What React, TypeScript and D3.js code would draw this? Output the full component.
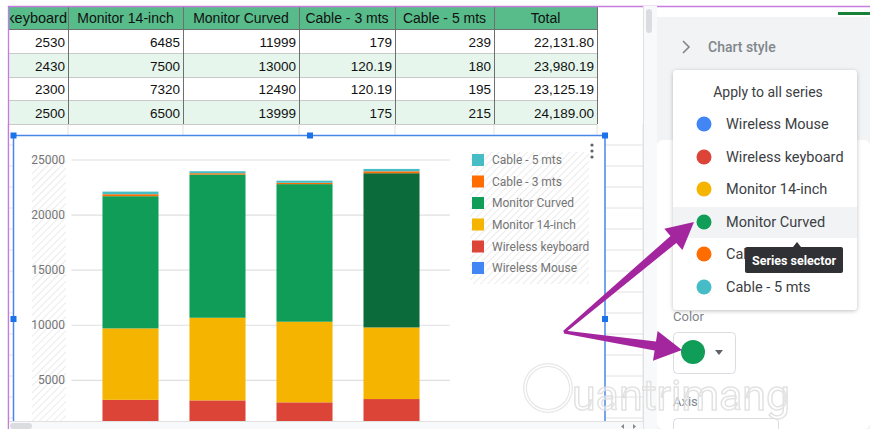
import React from 'react';
import * as d3 from 'd3';

// data read from the sheet / chart
const categories = ['1', '2', '3', '4'];
const seriesNames = ['Wireless Mouse', 'Wireless keyboard', 'Monitor 14-inch', 'Monitor Curved', 'Cable - 3 mts', 'Cable - 5 mts'];
const wirelessMouse = [699.8, 750, 700, 800];
const wirelessKeyboard = [2530, 2430, 2300, 2500];
const monitor14 = [6485, 7500, 7320, 6500];
const monitorCurved = [11999, 13000, 12490, 13999];
const cable3 = [179, 120.19, 120.19, 175];
const cable5 = [239, 180, 195, 215];
const totals = ['22,131.80', '23,980.19', '23,125.19', '24,189.00'];
const yTicks = [5000, 10000, 15000, 20000, 25000];
const tableHeaders = ['Wireless keyboard', 'Monitor 14-inch', 'Monitor Curved', 'Cable - 3 mts', 'Cable - 5 mts', 'Total'];
const seriesColors = ['#4285f4', '#db4437', '#f4b400', '#0f9d58', '#ff6d00', '#46bdc6'];

const W = 870;
const H = 429;
const colEdges = [8, 68, 183, 299, 395, 494, 597];
const rowEdges = [6, 29, 53, 77, 100, 124];

function arrowPath(tx, ty, px, py, headLen, headHalf, w0, w1) {
  const dx = px - tx, dy = py - ty;
  const len = Math.sqrt(dx * dx + dy * dy);
  const ux = dx / len, uy = dy / len;
  const nx = -uy, ny = ux;
  const bx = px - ux * headLen, by = py - uy * headLen;
  const pts = [
    [tx + nx * w0, ty + ny * w0],
    [bx + nx * w1, by + ny * w1],
    [bx + nx * headHalf, by + ny * headHalf],
    [px, py],
    [bx - nx * headHalf, by - ny * headHalf],
    [bx - nx * w1, by - ny * w1],
    [tx - nx * w0, ty - ny * w0],
  ];
  return 'M' + pts.map(p => p[0].toFixed(1) + ',' + p[1].toFixed(1)).join('L') + 'Z';
}

function App() {
  const rows = categories.map((c, i) => ({
    cat: c,
    'Wireless Mouse': wirelessMouse[i],
    'Wireless keyboard': wirelessKeyboard[i],
    'Monitor 14-inch': monitor14[i],
    'Monitor Curved': monitorCurved[i],
    'Cable - 3 mts': cable3[i],
    'Cable - 5 mts': cable5[i],
  }));
  const stacked = d3.stack().keys(seriesNames)(rows);

  const x = d3.scaleBand().domain(categories).range([71.5, 450.5]).padding(0.356);
  const y = d3.scaleLinear().domain([0, 25000]).range([435.4, 160]);
  const color = d3.scaleOrdinal().domain(seriesNames).range(seriesColors);

  const font = 'Roboto, Arial, sans-serif';
  const sheetFont = '"Liberation Sans", Arial, sans-serif';

  const menuY = [124, 157, 189, 222, 254, 287];
  const legendY = [160, 181.5, 203, 224.5, 246.5, 268];

  return (
    <div style={{ position: 'absolute', left: 0, top: 0 }}>
      <svg width={W} height={H} style={{ display: 'block', background: '#fff' }}>
        <defs>
          <pattern id="hatch" width="5" height="5" patternUnits="userSpaceOnUse" patternTransform="rotate(45)">
            <rect width="5" height="5" fill="#fff" />
            <line x1="0" y1="0" x2="0" y2="5" stroke="#e6e6e6" strokeWidth="1.6" />
          </pattern>
          <clipPath id="firstCol">
            <rect x={10} y={0} width={58} height={40} />
          </clipPath>
          <filter id="shadow" x="-10%" y="-10%" width="120%" height="130%">
            <feDropShadow dx="0" dy="1" stdDeviation="2" floodColor="#000" floodOpacity="0.25" />
          </filter>
        </defs>

        {/* spreadsheet grid below the table */}
        {d3.range(145, 429, 21).map(gy => (
          <line key={'gr' + gy} x1={8} x2={643} y1={gy} y2={gy} stroke="#e2e2e2" />
        ))}
        {colEdges.concat([643]).map(cx => (
          <line key={'gc' + cx} x1={cx} x2={cx} y1={124} y2={429} stroke="#e2e2e2" />
        ))}

        {/* table */}
        <rect x={8} y={rowEdges[0]} width={589} height={23} fill="#57bb8a" />
        {totals.map((t, i) => (
          <rect key={'rb' + i} x={8} y={rowEdges[i + 1]} width={589} height={rowEdges[i + 2] - rowEdges[i + 1]}
            fill={i % 2 === 1 ? '#e7f6ec' : '#fff'} />
        ))}
        {rowEdges.map(ry => (
          <line key={'tr' + ry} x1={8} x2={597} y1={ry + 0.5} y2={ry + 0.5} stroke={ry === 6 ? '#c77be0' : '#c9c9c9'} />
        ))}
        {colEdges.map(cx => (
          <line key={'tc' + cx} x1={cx + 0.5} x2={cx + 0.5} y1={6} y2={124} stroke="#6f6f6f" />
        ))}
        <line x1={8} x2={597} y1={29.5} y2={29.5} stroke="#6f6f6f" />
        <g clipPath="url(#firstCol)">
          <text x={67} y={23} textAnchor="end" fontFamily={sheetFont} fontSize={14.5} fill="#111">{tableHeaders[0]}</text>
        </g>
        {tableHeaders.slice(1).map((h, i) => (
          <text key={'th' + i} x={(colEdges[i + 1] + colEdges[i + 2]) / 2} y={23} textAnchor="middle"
            fontFamily={sheetFont} fontSize={14} fill="#111">{h}</text>
        ))}
        {categories.map((c, i) => {
          const vals = [wirelessKeyboard[i], monitor14[i], monitorCurved[i], cable3[i], cable5[i]].map(String).concat([totals[i]]);
          const by = rowEdges[i + 2] - 6;
          return vals.map((v, j) => (
            <text key={'td' + i + '-' + j} x={colEdges[j + 1] - 3} y={by} textAnchor="end"
              fontFamily={sheetFont} fontSize={13.5} fill="#111">{v}</text>
          ));
        })}

        {/* chart */}
        <rect x={13} y={135} width={592} height={286} fill="#fff" />
        <rect x={32} y={155} width={34} height={266} fill="url(#hatch)" />
        {yTicks.map(t => (
          <g key={'yt' + t}>
            <line x1={71.5} x2={450} y1={y(t)} y2={y(t)} stroke="#e0e0e0" strokeWidth={1.2} />
            <text x={65} y={y(t) + 4} textAnchor="end" fontFamily={font} fontSize={12} fill="#757575">{t}</text>
          </g>
        ))}
        <g>
          {stacked.map(s => s.map((d, i) => (
            <rect key={s.key + i}
              x={x(categories[i])}
              y={Math.min(y(d[1]), 421)}
              width={x.bandwidth()}
              height={Math.max(0, Math.min(y(d[0]), 421) - Math.min(y(d[1]), 421))}
              fill={s.key === 'Monitor Curved' && i === 3 ? '#0b6b3b' : color(s.key)} />
          )))}
        </g>

        {/* legend */}
        <rect x={470} y={152} width={119} height={132} fill="url(#hatch)" />
        {seriesNames.slice().reverse().map((n, i) => (
          <g key={'lg' + n}>
            <rect x={472} y={legendY[i] - 6} width={12} height={12} fill={color(n)} />
            <text x={492} y={legendY[i] + 4} fontFamily={font} fontSize={12} fill="#757575">{n}</text>
          </g>
        ))}
        {[145, 151, 157].map(dy => <circle key={'dot' + dy} cx={592} cy={dy} r={1.6} fill="#5f6368" />)}

        {/* selection frame */}
        <rect x={13.5} y={135.5} width={591.5} height={300} fill="none" stroke="#4a86e8" strokeWidth={1.5} />
        {[[13.5, 135.5], [310, 135.5], [605, 135.5], [13.5, 319], [605, 319]].map((p, i) => (
          <rect key={'hd' + i} x={p[0] - 3} y={p[1] - 3} width={6} height={6} fill="#1a73e8" />
        ))}

        {/* sheet purple borders */}
        <line x1={8} x2={870} y1={6.5} y2={6.5} stroke="#c77be0" strokeWidth={1.3} />
        <line x1={8.5} x2={8.5} y1={6} y2={429} stroke="#c77be0" strokeWidth={1.3} />

        {/* bottom scrollbar */}
        <rect x={9} y={421} width={634} height={8} fill="#f8f9fa" />
        <line x1={9} x2={643} y1={421.5} y2={421.5} stroke="#e0e0e0" />
        <rect x={10} y={423} width={22} height={6} rx={3} fill="#dadce0" />
        <path d="M624,424 L621,426.5 L624,429 Z" fill="#888" />
        <path d="M633,424 L636,426.5 L633,429 Z" fill="#888" />

        {/* side panel */}
        <rect x={643} y={6} width={14} height={423} fill="#f8f9fa" />
        <line x1={643.5} x2={643.5} y1={6} y2={429} stroke="#e0e0e0" />
        <rect x={646} y={9} width={6} height={24} rx={3} fill="#dadce0" />
        <rect x={657} y={17} width={213} height={412} fill="#f1f3f4" />
        <rect x={838} y={12} width={32} height={3} fill="#188038" />
        <path d="M683,41 L689,47 L683,53" fill="none" stroke="#80868b" strokeWidth={1.6} />
        <text x={708} y={52} fontFamily={font} fontSize={14} fontWeight={500} fill="#80868b">Chart style</text>
        <rect x={657} y={140} width={213} height={289} rx={6} fill="#fff" />

        <text x={673} y={321} fontFamily={font} fontSize={13} fill="#80868b">Color</text>
        <rect x={673.5} y={332.5} width={62} height={41} rx={4} fill="#fff" stroke="#dadce0" />
        <circle cx={693} cy={352} r={12} fill="#0f9d58" />
        <path d="M715,350 L723,350 L719,355 Z" fill="#5f6368" />
        <text x={673} y={406} fontFamily={font} fontSize={13} fill="#80868b">Axis</text>
        <rect x={673.5} y={418.5} width={105} height={20} rx={4} fill="#fff" stroke="#dadce0" />

        {/* series menu */}
        <rect x={673} y={70} width={184} height={240} rx={4} fill="#fff" filter="url(#shadow)" />
        <rect x={673} y={207} width={184} height={31} fill="#f1f3f4" />
        <text x={768} y={97} textAnchor="middle" fontFamily={font} fontSize={14} fill="#3c4043">Apply to all series</text>
        {seriesNames.map((n, i) => (
          <g key={'mi' + n}>
            <circle cx={704} cy={menuY[i]} r={7.5} fill={color(n)} />
            <text x={726} y={menuY[i] + 5} fontFamily={font} fontSize={14.5} fill="#3c4043">{n}</text>
          </g>
        ))}

        {/* tooltip */}
        <path d="M793,247 L797,242 L801,247 Z" fill="#303134" />
        <rect x={745} y={247} width={98} height={26} rx={2} fill="#303134" />
        <text x={794} y={265} textAnchor="middle" fontFamily={font} fontSize={12.5} fontWeight={700} fill="#fff">Series selector</text>

        {/* watermark */}
        <g opacity={0.85}>
          <circle cx={548} cy={388} r={23} fill="none" stroke="#e4e4e4" strokeWidth={4} />
          <circle cx={548} cy={388} r={23} fill="none" stroke="#fff" strokeWidth={1.5} />
          <text x={572} y={410} textLength={218} lengthAdjust="spacingAndGlyphs" fontFamily={font} fontSize={42}
            fill="#fff" fillOpacity={0.6} stroke="#dedede" strokeWidth={1.5}>uantrimang</text>
        </g>

        {/* purple arrows */}
        <path d={arrowPath(564, 332, 694, 222, 27, 14, 1.5, 4.5)} fill="#a3269e" />
        <path d={arrowPath(564, 332, 682, 350, 27, 15, 1.5, 4.5)} fill="#a3269e" />
      </svg>
    </div>
  );
}

export default App;
